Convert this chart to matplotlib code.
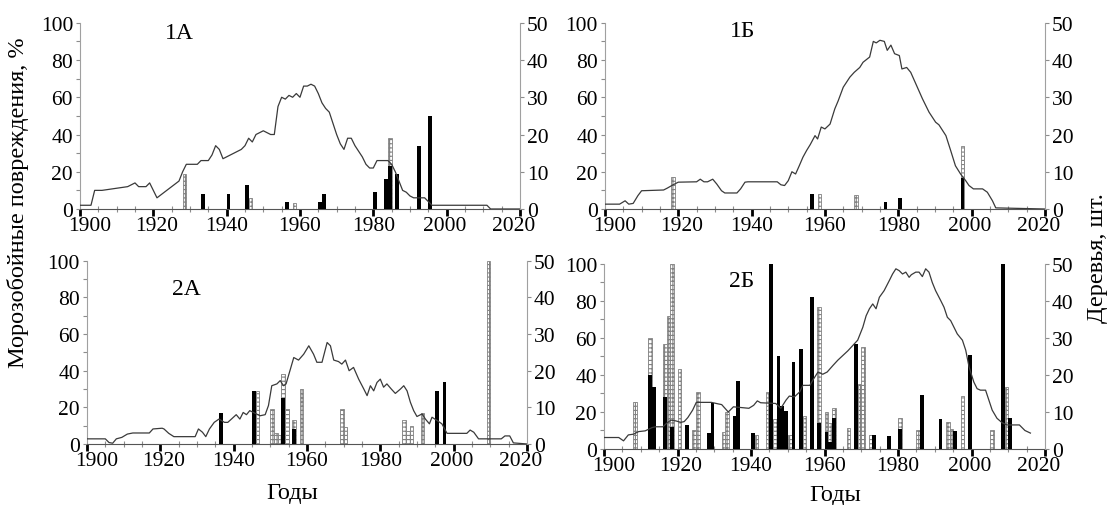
import matplotlib.pyplot as plt
from matplotlib.ticker import MultipleLocator
from matplotlib.transforms import ScaledTranslation

plt.rcParams['font.family'] = ['Liberation Serif', 'DejaVu Serif']
plt.rcParams['hatch.linewidth'] = 0.8

# number of trees, read year by year (right axis, pcs)
trees_1a = [(1900, 1), (1903, 1), (1904, 5), (1906, 5), (1913, 6), (1915, 7), (1916, 6),
            (1918, 6), (1919, 7), (1921, 3), (1923, 4.5), (1925, 6), (1927, 7.5), (1928, 10),
            (1929, 12), (1932, 12), (1933, 13), (1935, 13), (1936, 14.5), (1937, 17), (1938, 16),
            (1939, 13.5), (1940, 14), (1942, 15), (1944, 16), (1945, 17), (1946, 19), (1947, 18),
            (1948, 20), (1950, 21), (1952, 20), (1953, 20), (1954, 27.5), (1955, 30), (1956, 29.5),
            (1957, 30.5), (1958, 30), (1959, 31), (1960, 30), (1961, 33), (1962, 33), (1963, 33.5),
            (1964, 33), (1965, 31), (1966, 28.5), (1967, 27), (1968, 26), (1969, 23), (1970, 20),
            (1971, 17.5), (1972, 16), (1973, 19), (1974, 19), (1975, 17), (1976, 15.5), (1977, 14),
            (1978, 12), (1979, 11), (1980, 11), (1981, 13), (1984, 13), (1985, 12), (1986, 10),
            (1987, 7.5), (1988, 5), (1989, 4.5), (1990, 3.5), (1991, 3), (1994, 3), (1995, 2),
            (1996, 1), (2011, 1), (2012, 0), (2020, 0)]
trees_1b = [(1900, 1.3), (1904, 1.3), (1905.5, 2.2), (1906.5, 1.3), (1907.7, 1.5), (1909, 3.6),
            (1910, 4.9), (1916, 5.1), (1917, 5.6), (1918.6, 6.5), (1920, 7.2), (1925, 7.3),
            (1926, 8), (1927, 7.3), (1928, 7.3), (1929.4, 8), (1930.5, 6.7), (1931.8, 4.9),
            (1932.7, 4.3), (1936, 4.3), (1937, 5.4), (1938.2, 7.2), (1939, 7.3), (1947, 7.3),
            (1948, 6.5), (1949, 6.3), (1950, 7.6), (1951, 10), (1952, 9.4), (1953, 11.6),
            (1954, 13.9), (1955, 15.7), (1956, 17.3), (1957.3, 19.7), (1958, 18.8), (1959, 22),
            (1960, 21.5), (1961.4, 22.8), (1962.7, 26.9), (1963.6, 29), (1965, 32.7),
            (1966.8, 35.4), (1968, 36.7), (1969.5, 38), (1970.4, 39.4), (1972.2, 40.8),
            (1973.2, 45), (1974, 44.6), (1975, 45.3), (1976.2, 45), (1977, 42.6), (1978, 44),
            (1979, 41.7), (1980.3, 41.2), (1981, 37.6), (1982.3, 38), (1983.4, 36.7),
            (1984.8, 33.6), (1986.6, 29.6), (1988.4, 26), (1990.2, 23.3), (1991.1, 22.6),
            (1993, 19.7), (1994.3, 15.7), (1995.6, 11.6), (1997, 9.4), (1998.4, 7.6),
            (1999.3, 6.3), (2000.5, 5.4), (2003, 5.4), (2004.3, 4.5), (2005.7, 2.2),
            (2006.6, 0.3), (2020, 0)]
trees_2a = [(1900, 1.4), (1905, 1.4), (1906, 0.4), (1907, 0.2), (1908, 1.4), (1909.5, 1.8),
            (1911, 2.7), (1912.5, 3), (1917, 3), (1918, 4.1), (1920.5, 4.3), (1921, 4.1),
            (1922.3, 2.9), (1923.7, 2), (1929.5, 2), (1930.4, 4.1), (1931.5, 3.2), (1932.4, 2),
            (1933.4, 4.1), (1934.7, 5.9), (1936, 6.8), (1937.5, 5.9), (1938.4, 5.9),
            (1939.4, 6.8), (1940.7, 8), (1941.7, 6.8), (1942.6, 8.6), (1943.5, 8), (1944.4, 9.1),
            (1945.8, 8.4), (1947.2, 7.7), (1948.6, 8), (1949.5, 10.5), (1950.4, 15.9),
            (1951.8, 16.4), (1952.7, 17.3), (1953.6, 15.9), (1954.3, 16.4), (1955.5, 20.5),
            (1956.4, 23.6), (1957.7, 22.9), (1959.1, 24.5), (1960.5, 26.8), (1961.8, 24.5),
            (1962.7, 22.3), (1964.1, 22.3), (1965.5, 27.7), (1966.4, 26.8), (1967.3, 22.9),
            (1968.6, 22.5), (1969.5, 21.8), (1970.5, 22.9), (1971.5, 20), (1972.7, 20.9),
            (1974.1, 17.7), (1975.5, 15), (1976.4, 13.2), (1977.3, 15.9), (1978.2, 14.5),
            (1979.1, 16.8), (1980, 17.7), (1980.9, 15.5), (1981.8, 16.4), (1983, 15),
            (1984.1, 13.8), (1985.5, 15), (1986.4, 15.9), (1987.3, 14.5), (1988.2, 11.4),
            (1989.1, 9.1), (1990, 7.5), (1991.4, 8.2), (1992.3, 6.8), (1993.4, 5.5),
            (1994.1, 7.3), (1995.5, 6.4), (1996.8, 5.5), (1998.2, 2.9), (2003.6, 2.9),
            (2004.5, 3.8), (2005.5, 3.2), (2006.8, 1.4), (2013, 1.4), (2014, 2.2),
            (2015.3, 2.2), (2016.3, 0.3), (2020, 0)]
trees_2b = [(1900, 3.1), (1904, 3.1), (1905.3, 2.2), (1906.6, 3.8), (1908, 4), (1909.4, 4.7),
            (1911.2, 4.9), (1913.1, 5.8), (1914, 6), (1916, 6), (1917.2, 7.1), (1918.2, 7.8),
            (1919.5, 7.6), (1920.9, 7.2), (1921.8, 7.4), (1922.8, 8.5), (1924.1, 10.5),
            (1925.1, 12.6), (1929.2, 12.6), (1931, 12.2), (1932, 12), (1932.9, 11),
            (1933.8, 10), (1935.2, 11.4), (1939.4, 11), (1940.7, 11.8), (1941.7, 13),
            (1942.6, 12.5), (1946.7, 12.3), (1948.1, 11), (1949.5, 13.2), (1950.4, 14.3),
            (1951.8, 14.1), (1953.2, 15.4), (1954.1, 17.2), (1956, 17.2), (1956.8, 18.6),
            (1958.2, 20.8), (1959.5, 20.2), (1960.7, 20.8), (1962.3, 22.6), (1963.6, 24),
            (1965, 25.3), (1966.3, 26.5), (1967.7, 28), (1969, 29.4), (1970.4, 32.9),
            (1971.3, 36), (1972.2, 37.9), (1973.1, 39.2), (1974, 37.9), (1974.9, 41),
            (1976.2, 42.8), (1977.6, 45.5), (1978.5, 47.3), (1979.4, 48.7), (1980.3, 48.2),
            (1981.2, 47.3), (1982.1, 47.8), (1983, 46.4), (1983.6, 47.1), (1984.8, 47.8),
            (1985.7, 47.8), (1986.6, 46.6), (1987.5, 48.7), (1988.4, 47.8), (1989.3, 45),
            (1990.2, 42.8), (1991.6, 40.1), (1992.5, 38.3), (1993.4, 35.6), (1994.3, 34.7),
            (1995.2, 32.9), (1996.1, 31.1), (1997.5, 29.4), (1998.4, 26.7), (1999.3, 22.2),
            (2000.6, 18.1), (2001.5, 16.3), (2002.4, 15.9), (2003.8, 15.9), (2004.7, 13.2),
            (2005.6, 10.5), (2006.9, 8.3), (2008.3, 7.1), (2009.6, 6.5), (2013, 6.5),
            (2014.5, 5), (2016, 4.3)]

# frost damage, % (left axis): solid bars and hatched bars
black_1a = [(1933, 8), (1940, 8), (1945, 13), (1956, 4), (1965, 4), (1966, 8), (1980, 9),
            (1983, 16), (1984, 23), (1986, 19), (1992, 34), (1995, 50)]
hatch_1a = [(1928, 19), (1946, 6), (1958, 3), (1984, 38)]

black_1b = [(1956, 8), (1976, 3.5), (1980, 6), (1997, 16.5)]
hatch_1b = [(1918, 17), (1958, 8), (1968, 7.5), (1997, 34)]

black_2a = [(1936, 17), (1945, 29), (1953, 25), (1956, 8), (1995, 29), (1997, 34)]
hatch_2a = [(1946, 29), (1950, 19), (1951, 6), (1952, 5), (1953, 38), (1954, 19), (1956, 13),
            (1958, 30), (1969, 19), (1970, 9), (1986, 13), (1987, 7), (1988, 10), (1991, 17),
            (2009, 100)]

black_2b = [(1912, 40), (1913, 33.6), (1916, 28), (1918, 12), (1922, 13), (1928, 8.4),
            (1929, 24.6), (1935, 18), (1936, 37), (1940, 8.4), (1945, 100), (1947, 50),
            (1948, 23.5), (1949, 20.3), (1951, 47), (1953, 54), (1956, 82), (1958, 14),
            (1960, 9), (1961, 4), (1962, 16.5), (1968, 57), (1973, 7.5), (1977, 7.2),
            (1980, 11), (1986, 29), (1991, 16), (1995, 9.5), (1999, 51), (2008, 100),
            (2010, 17)]
hatch_2b = [(1908, 25.5), (1912, 60), (1916, 57), (1917, 72), (1918, 100), (1920, 43),
            (1924, 10), (1925, 31), (1932, 9), (1933, 20), (1941, 7.5), (1944, 31), (1946, 16),
            (1950, 7.5), (1954, 18), (1958, 77), (1960, 20), (1961, 14), (1962, 22), (1966, 11.5),
            (1969, 35), (1970, 55), (1972, 7.5), (1980, 17), (1985, 10), (1993, 14.4),
            (1994, 11), (1997, 28.7), (2005, 10), (2009, 33.6)]

year_ticks = [1900, 1920, 1940, 1960, 1980, 2000, 2020]
# end labels sit a little inside the axis ends (pixels)
label_shift = [10, 3, 0, 0, 0, -2, -6]

panels = [
    ('1А', [0.072, 0.585, 0.396, 0.368], (1927, 95), black_1a, hatch_1a, trees_1a),
    ('1Б', [0.5445, 0.585, 0.396, 0.368], (1937.5, 96), black_1b, hatch_1b, trees_1b),
    ('2А', [0.0783, 0.1206, 0.396, 0.362], (1927, 85), black_2a, hatch_2a, trees_2a),
    ('2Б', [0.5437, 0.1107, 0.397, 0.3656], (1937.5, 91), black_2b, hatch_2b, trees_2b),
]

fig = plt.figure(figsize=(11.11, 5.06), dpi=100)

for name, rect, title_xy, black, hatched, trees in panels:
    ax = fig.add_axes(rect)
    ax2 = ax.twinx()

    hx, hy = zip(*hatched)
    ax.bar(hx, hy, width=1.0, align='edge', facecolor='white', edgecolor='#808080',
           linewidth=0.6, hatch='++++', zorder=2)
    bx, by = zip(*black)
    ax.bar(bx, by, width=1.0, align='edge', color='black', linewidth=0, zorder=3)

    tx, ty = zip(*trees)
    ax2.plot(tx, ty, color='#3a3a3a', linewidth=0.9)

    ax.set_xlim(1900, 2020)
    ax.set_ylim(0, 100)
    ax2.set_ylim(0, 50)
    ax.set_xticks(year_ticks)
    ax.xaxis.set_minor_locator(MultipleLocator(5))
    ax.yaxis.set_major_locator(MultipleLocator(20))
    ax.yaxis.set_minor_locator(MultipleLocator(10))
    ax2.yaxis.set_major_locator(MultipleLocator(10))

    ax.tick_params(axis='y', which='both', direction='out', length=3, width=0.8,
                   color='#8c8c8c', labelsize=15.5, pad=2)
    ax.tick_params(axis='x', which='major', direction='out', length=5, width=2,
                   color='black', labelsize=15.5, pad=0)
    ax.tick_params(axis='x', which='minor', direction='inout', length=4, width=0.8,
                   color='#8c8c8c')
    ax2.tick_params(axis='y', direction='out', length=3, width=0.8, color='#8c8c8c',
                    labelsize=15.5, pad=2)

    for lab, dx in zip(ax.get_xticklabels(), label_shift):
        lab.set_transform(lab.get_transform()
                          + ScaledTranslation(dx / 100, 0, fig.dpi_scale_trans))

    for a in (ax, ax2):
        a.spines['top'].set_visible(False)
        a.patch.set_visible(False)
    ax.spines['right'].set_visible(False)
    ax2.spines['left'].set_visible(False)
    ax2.spines['bottom'].set_visible(False)
    ax.spines['left'].set_color('#a0a0a0')
    ax2.spines['right'].set_color('#a0a0a0')
    ax.spines['bottom'].set_color('#555555')
    ax.spines['left'].set_linewidth(0.8)
    ax2.spines['right'].set_linewidth(0.8)

    ax.text(title_xy[0], title_xy[1], name, ha='center', va='center', fontsize=17)

fig.text(0.016, 0.60, 'Морозобойные повреждения, %', rotation=90, ha='center',
         va='center', fontsize=17.5)
fig.text(0.988, 0.49, 'Деревья, шт.', rotation=90, ha='center', va='center', fontsize=17.5)
fig.text(0.263, 0.024, 'Годы', ha='center', va='center', fontsize=17.5)
fig.text(0.752, 0.02, 'Годы', ha='center', va='center', fontsize=17.5)

fig.savefig('out.png', dpi=100)
